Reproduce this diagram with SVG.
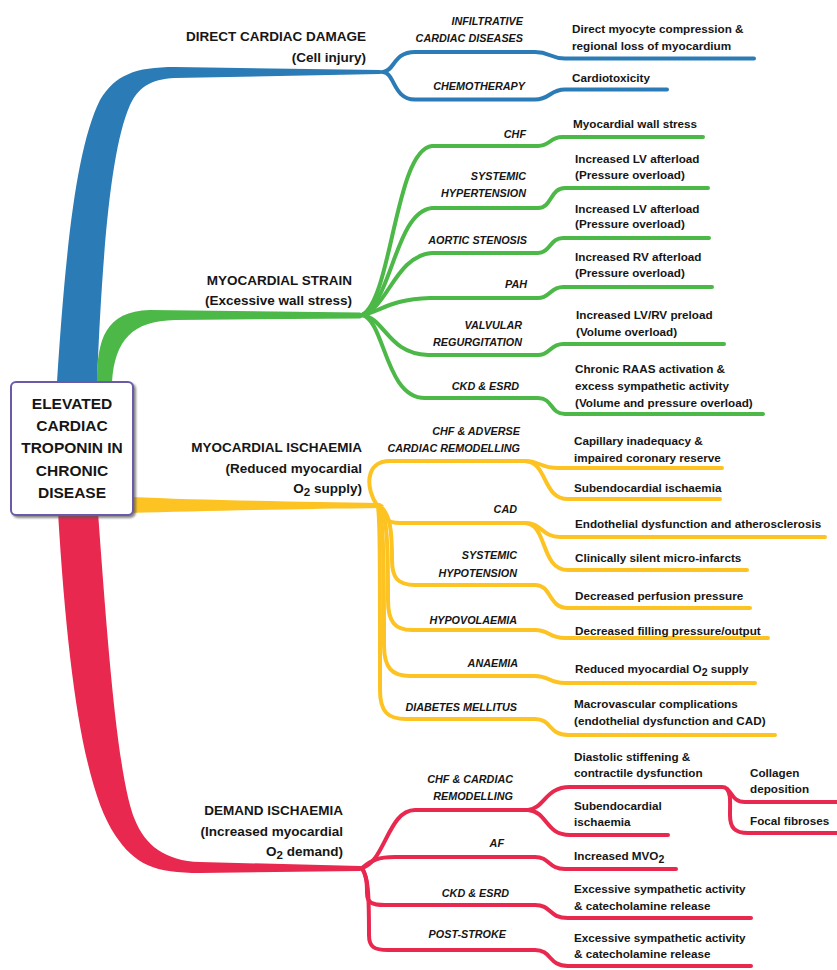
<svg xmlns="http://www.w3.org/2000/svg" width="837" height="970" viewBox="0 0 837 970">
<defs>
<style>
text{font-family:"Liberation Sans",Arial,sans-serif;font-weight:bold;fill:#161616}
.main{font-size:13.5px;text-anchor:end}
.sub{font-size:10.8px;font-style:italic;text-anchor:end}
.desc{font-size:11.7px}
.root{font-size:15.5px;text-anchor:middle}
.b{stroke:#2b7cb6}.g{stroke:#4cb848}.y{stroke:#fcc322}.r{stroke:#e8284e}
.ln{fill:none;stroke-width:4;stroke-linecap:round;stroke-linejoin:round}
</style>
<filter id="sh" x="-10%" y="-10%" width="130%" height="130%">
<feDropShadow dx="2" dy="2" stdDeviation="1.2" flood-color="#555" flood-opacity="0.7"/>
</filter>
</defs>
<rect width="837" height="970" fill="#fff"/>
<g id="connectors">
<!-- trunks -->
<path fill="#2b7cb6" d="M57,382 C 65,260 75,150 100,100 C 115,75 135,67 175,67 L 380,70 L 386,72 L 380,74 L 175,78 C 150,79 138,88 130,105 C 110,150 102,260 97,382 Z"/>
<path fill="#4cb848" d="M97,382 C 97,340 105,311 150,310 L 360,312.5 L 366,315.5 L 360,318.5 L 175,320 C 132,321 115,340 112,382 Z"/>
<path fill="#fcc322" d="M130,497 C 200,500 300,502 380,503 L 384,505.5 L 380,508 C 300,509 200,511 130,513 Z"/>
<path fill="#e8284e" d="M58,512 C 68,680 85,790 115,835 C 135,865 155,873 200,873 L 360,871 L 366,868.5 L 360,866 L 200,862 C 165,861 145,845 135,820 C 118,780 108,650 98,512 Z"/>
<!-- blue -->
<path class="ln b" d="M383,72 C 395,71 393,52 415,52 L 535,52 C 550,52 550,58.5 565,58.5 L 754,58.5"/>
<path class="ln b" d="M383,72 C 395,73 393,99.5 415,99.5 L 535,99.5 C 550,99.5 550,89.5 565,89.5 L 667,89.5"/>
<!-- green -->
<path class="ln g" d="M362,315 C 392,300 395,150 432,146 L 538,146 C 550,146 550,137 562,137 L 703,137"/>
<path class="ln g" d="M362,315 C 392,303 395,212 432,208 L 538,208 C 552,208 550,188 565,188 L 708,188"/>
<path class="ln g" d="M362,315 C 388,308 395,256 432,253 L 538,253 C 550,253 550,238 563,238 L 709,238"/>
<path class="ln g" d="M362,315 C 380,312 390,299 430,298 L 538,298 C 550,298 550,287 563,287 L 712,287"/>
<path class="ln g" d="M362,315 C 385,318 388,354 428,355 L 538,355 C 550,355 550,344 563,344 L 724,344"/>
<path class="ln g" d="M362,315 C 385,320 385,398 425,398 L 538,398 C 553,398 550,414 565,414 L 763,414"/>
<!-- yellow -->
<path class="ln y" d="M377,505 C 366,490 364,461 390,461 L 525,461 C 540,461 540,468 558,468 L 722,468"/>
<path class="ln y" d="M525,461 C 548,462 542,499 568,499 L 720,499"/>
<path class="ln y" d="M380,507 C 384,518 386,523 400,523 L 525,523 C 542,523 542,537 560,537 L 825,537"/>
<path class="ln y" d="M525,523 C 548,524 540,570 568,570 L 747,570"/>
<path class="ln y" d="M381,507 C 390,515 392,530 392,560 C 392,578 398,585 415,585 L 535,585 C 552,585 548,608 568,608 L 750,608"/>
<path class="ln y" d="M380,507 C 387,518 388,540 388,600 C 388,622 395,630 412,630 L 535,630 C 550,630 548,638 565,638 L 768,638"/>
<path class="ln y" d="M379,507 C 383,520 384,550 384,645 C 384,668 392,676 410,676 L 535,676 C 550,676 548,683 565,683 L 755,683"/>
<path class="ln y" d="M378,507 C 380,520 380,560 380,690 C 380,712 388,719 406,719 L 535,719 C 552,719 548,735 568,735 L 775,735"/>
<!-- red -->
<path class="ln r" d="M362,868 C 385,862 388,810 415,810 L 530,810"/>
<path class="ln r" d="M528,810 C 545,808 545,787 570,787 L 722,787 C 732,787 730,802 745,802 L 837,802"/>
<path class="ln r" d="M727,789 C 731,795 730,800 730,815 C 730,828 735,833 748,833 L 837,833"/>
<path class="ln r" d="M528,810 C 548,812 545,835 570,835 L 668,835"/>
<path class="ln r" d="M362,868 C 372,860 378,857 395,857 L 535,857 C 550,857 548,869 565,869 L 676,869"/>
<path class="ln r" d="M362,868 C 366,875 367,880 367,893 C 367,903 372,905 385,905 L 535,905 C 552,905 548,918 568,918 L 751,918"/>
<path class="ln r" d="M362,868 C 368,878 369,890 369,935 C 369,947 374,950 388,950 L 535,950 C 552,950 548,966 568,966 L 751,966"/>
</g>
<g id="root">
<rect x="11" y="382" width="122" height="133" rx="5" fill="#fff" stroke="#6a5aa8" stroke-width="2" filter="url(#sh)"/>
<text class="root" x="72" y="409">ELEVATED</text>
<text class="root" x="72" y="431">CARDIAC</text>
<text class="root" x="72" y="453">TROPONIN IN</text>
<text class="root" x="72" y="476">CHRONIC</text>
<text class="root" x="72" y="498">DISEASE</text>
</g>
<g id="direct-cardiac-damage">
<text class="main" x="366" y="41">DIRECT CARDIAC DAMAGE</text>
<text class="main" x="366" y="62">(Cell injury)</text>
</g>
<g id="myocardial-strain">
<text class="main" x="352" y="285">MYOCARDIAL STRAIN</text>
<text class="main" x="352" y="305">(Excessive wall stress)</text>
</g>
<g id="myocardial-ischaemia">
<text class="main" x="362" y="452">MYOCARDIAL ISCHAEMIA</text>
<text class="main" x="362" y="473">(Reduced myocardial</text>
<text class="main" x="362" y="493">O<tspan dy="3" font-size="11.5">2</tspan><tspan dy="-3"> supply)</tspan></text>
</g>
<g id="demand-ischaemia">
<text class="main" x="343" y="815">DEMAND ISCHAEMIA</text>
<text class="main" x="343" y="836">(Increased myocardial</text>
<text class="main" x="343" y="856">O<tspan dy="3" font-size="11.5">2</tspan><tspan dy="-3"> demand)</tspan></text>
</g>
<g id="infiltrative">
<text class="sub" x="523" y="25">INFILTRATIVE</text>
<text class="sub" x="523" y="42">CARDIAC DISEASES</text>
<text class="desc" x="572" y="33">Direct myocyte compression &amp;</text>
<text class="desc" x="572" y="50">regional loss of myocardium</text>
</g>
<g id="chemotherapy">
<text class="sub" x="525" y="90">CHEMOTHERAPY</text>
<text class="desc" x="572" y="82">Cardiotoxicity</text>
</g>
<g id="strain-chf">
<text class="sub" x="526" y="138">CHF</text>
<text class="desc" x="573" y="128">Myocardial wall stress</text>
</g>
<g id="systemic-hypertension">
<text class="sub" x="526" y="180">SYSTEMIC</text>
<text class="sub" x="526" y="197">HYPERTENSION</text>
<text class="desc" x="575" y="163">Increased LV afterload</text>
<text class="desc" x="575" y="179">(Pressure overload)</text>
</g>
<g id="aortic-stenosis">
<text class="sub" x="527" y="244">AORTIC STENOSIS</text>
<text class="desc" x="575" y="213">Increased LV afterload</text>
<text class="desc" x="575" y="228">(Pressure overload)</text>
</g>
<g id="pah">
<text class="sub" x="527" y="288">PAH</text>
<text class="desc" x="575" y="261">Increased RV afterload</text>
<text class="desc" x="575" y="277">(Pressure overload)</text>
</g>
<g id="valvular-regurgitation">
<text class="sub" x="522" y="329">VALVULAR</text>
<text class="sub" x="522" y="346">REGURGITATION</text>
<text class="desc" x="576" y="319">Increased LV/RV preload</text>
<text class="desc" x="576" y="336">(Volume overload)</text>
</g>
<g id="strain-ckd">
<text class="sub" x="519" y="390">CKD &amp; ESRD</text>
<text class="desc" x="575" y="373">Chronic RAAS activation &amp;</text>
<text class="desc" x="575" y="390">excess sympathetic activity</text>
<text class="desc" x="575" y="407">(Volume and pressure overload)</text>
</g>
<g id="chf-adverse">
<text class="sub" x="520" y="435">CHF &amp; ADVERSE</text>
<text class="sub" x="520" y="452">CARDIAC REMODELLING</text>
<text class="desc" x="574" y="445">Capillary inadequacy &amp;</text>
<text class="desc" x="574" y="462">impaired coronary reserve</text>
<text class="desc" x="574" y="492">Subendocardial ischaemia</text>
</g>
<g id="cad">
<text class="sub" x="517" y="513">CAD</text>
<text class="desc" x="575" y="528">Endothelial dysfunction and atherosclerosis</text>
<text class="desc" x="575" y="562">Clinically silent micro-infarcts</text>
</g>
<g id="systemic-hypotension">
<text class="sub" x="517" y="559">SYSTEMIC</text>
<text class="sub" x="517" y="577">HYPOTENSION</text>
<text class="desc" x="575" y="600">Decreased perfusion pressure</text>
</g>
<g id="hypovolaemia">
<text class="sub" x="517" y="624">HYPOVOLAEMIA</text>
<text class="desc" x="575" y="635">Decreased filling pressure/output</text>
</g>
<g id="anaemia">
<text class="sub" x="518" y="667">ANAEMIA</text>
<text class="desc" x="575" y="673">Reduced myocardial O<tspan dy="3" font-size="10.5">2</tspan><tspan dy="-3"> supply</tspan></text>
</g>
<g id="diabetes">
<text class="sub" x="517" y="711">DIABETES MELLITUS</text>
<text class="desc" x="574" y="708">Macrovascular complications</text>
<text class="desc" x="574" y="725">(endothelial dysfunction and CAD)</text>
</g>
<g id="chf-cardiac-remodelling">
<text class="sub" x="513" y="783">CHF &amp; CARDIAC</text>
<text class="sub" x="513" y="800">REMODELLING</text>
<text class="desc" x="574" y="761">Diastolic stiffening &amp;</text>
<text class="desc" x="574" y="777">contractile dysfunction</text>
<text class="desc" x="750" y="777">Collagen</text>
<text class="desc" x="750" y="793">deposition</text>
<text class="desc" x="750" y="825">Focal fibroses</text>
<text class="desc" x="574" y="810">Subendocardial</text>
<text class="desc" x="574" y="826">ischaemia</text>
</g>
<g id="af">
<text class="sub" x="504" y="847">AF</text>
<text class="desc" x="574" y="860">Increased MVO<tspan dy="3" font-size="10.5">2</tspan></text>
</g>
<g id="demand-ckd">
<text class="sub" x="509" y="897">CKD &amp; ESRD</text>
<text class="desc" x="574" y="893">Excessive sympathetic activity</text>
<text class="desc" x="574" y="910">&amp; catecholamine release</text>
</g>
<g id="post-stroke">
<text class="sub" x="506" y="938">POST-STROKE</text>
<text class="desc" x="574" y="942">Excessive sympathetic activity</text>
<text class="desc" x="574" y="958">&amp; catecholamine release</text>
</g>
</svg>
